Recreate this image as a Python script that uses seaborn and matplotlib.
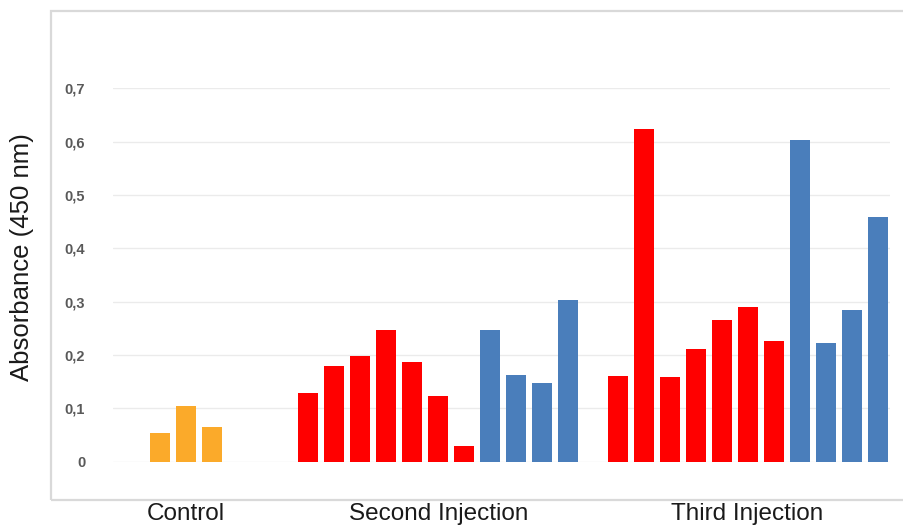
import numpy as np
import pandas as pd
import seaborn as sns
import matplotlib.pyplot as plt
from matplotlib.patches import Rectangle

# values
groups = ['Control', 'Second Injection', 'Third Injection']
control = [0.053, 0.105, 0.065]
second_red = [0.128, 0.179, 0.198, 0.246, 0.187, 0.123, 0.029]
second_blue = [0.246, 0.163, 0.147, 0.303]
third_red = [0.161, 0.623, 0.159, 0.212, 0.265, 0.290, 0.227]
third_blue = [0.603, 0.222, 0.284, 0.459]
yticks = [0, 0.1, 0.2, 0.3, 0.4, 0.5, 0.6, 0.7]
ytick_labels = ['0', '0,1', '0,2', '0,3', '0,4', '0,5', '0,6', '0,7']

colors = {'control': '#FBAA2A', 'red': '#FF0000', 'blue': '#4A7EBB'}

# build long table, bars in each group are laid out side by side
group_series = [
    [('control', control)],
    [('red', second_red), ('blue', second_blue)],
    [('red', third_red), ('blue', third_blue)],
]
group_start = [0, 5.7, 17.6]
rows = []
centers = []
for start, series in zip(group_start, group_series):
    i = 0
    for name, vals in series:
        for v in vals:
            rows.append({'pos': start + i, 'value': v, 'series': name})
            i += 1
    centers.append(start + (i - 1) / 2)
df = pd.DataFrame(rows)

sns.set_style('white')
plt.rcParams['font.family'] = ['Liberation Sans', 'DejaVu Sans']

fig = plt.figure(figsize=(9.04, 5.25), dpi=100)
ax = fig.add_axes([0.125, 0.1206, 0.8595, 0.7112])

# chart frame (cut at the right edge in the reference)
fig.patches.append(Rectangle((0.0564, 0.0476), 1.0, 0.9314, transform=fig.transFigure,
                             facecolor='none', edgecolor='#d9d9d9', lw=1.6, zorder=0))

sns.barplot(data=df, x='pos', y='value', hue='series', palette=colors,
            native_scale=True, dodge=False, width=0.77, saturation=1,
            legend=False, linewidth=0, ax=ax)

ax.set_xlim(-1.81, 28.08)
ax.set_ylim(0, 0.7)
ax.set_yticks(yticks)
ax.set_yticklabels(ytick_labels)
ax.set_xticks(centers)
ax.set_xticklabels(groups)
ax.grid(axis='y', color='#ebebeb', lw=1)
ax.set_axisbelow(True)
for s in ax.spines.values():
    s.set_visible(False)
ax.tick_params(axis='y', length=0, pad=20, labelsize=10.5, labelcolor='#595959')
for t in ax.get_yticklabels():
    t.set_fontweight('bold')
ax.tick_params(axis='x', length=0, pad=30, labelsize=17.5, labelcolor='#1a1a1a')
ax.set_xlabel('')
ax.set_ylabel('')

fig.text(0.024, 0.5095, 'Absorbance (450 nm)', rotation=90, ha='center', va='center',
         fontsize=18.5, color='#1a1a1a')

fig.savefig('out.png', dpi=100)
